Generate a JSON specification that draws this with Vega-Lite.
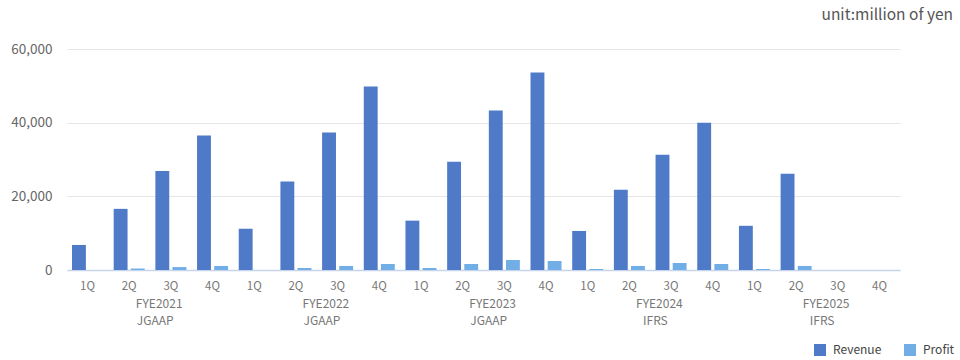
{
  "$schema": "https://vega.github.io/schema/vega-lite/v6.json",
  "autosize": "none",
  "width": 833,
  "height": 221,
  "padding": {"left": 67, "top": 49, "right": 60, "bottom": 90},
  "background": "white",
  "config": {
    "font": "Noto Sans CJK JP",
    "view": {"stroke": null},
    "axis": {"labelFont": "Noto Sans CJK JP"},
    "legend": {"labelFont": "Noto Sans CJK JP"}
  },
  "title": {
    "text": "unit:million of yen",
    "anchor": "end",
    "frame": "group",
    "dx": 53,
    "offset": 19,
    "fontSize": 15.5,
    "fontWeight": "normal",
    "color": "#555555",
    "font": "Noto Sans CJK JP"
  },
  "layer": [
    {
      "data": {
        "values": [
          {"period": "2021-1Q", "series": "Revenue", "value": 6800},
          {"period": "2021-1Q", "series": "Profit", "value": 0},
          {"period": "2021-2Q", "series": "Revenue", "value": 16600},
          {"period": "2021-2Q", "series": "Profit", "value": 400},
          {"period": "2021-3Q", "series": "Revenue", "value": 26900},
          {"period": "2021-3Q", "series": "Profit", "value": 800},
          {"period": "2021-4Q", "series": "Revenue", "value": 36500},
          {"period": "2021-4Q", "series": "Profit", "value": 1100},
          {"period": "2022-1Q", "series": "Revenue", "value": 11200},
          {"period": "2022-1Q", "series": "Profit", "value": 0},
          {"period": "2022-2Q", "series": "Revenue", "value": 24000},
          {"period": "2022-2Q", "series": "Profit", "value": 550},
          {"period": "2022-3Q", "series": "Revenue", "value": 37300},
          {"period": "2022-3Q", "series": "Profit", "value": 1100},
          {"period": "2022-4Q", "series": "Revenue", "value": 49800},
          {"period": "2022-4Q", "series": "Profit", "value": 1630},
          {"period": "2023-1Q", "series": "Revenue", "value": 13400},
          {"period": "2023-1Q", "series": "Profit", "value": 550},
          {"period": "2023-2Q", "series": "Revenue", "value": 29400},
          {"period": "2023-2Q", "series": "Profit", "value": 1630},
          {"period": "2023-3Q", "series": "Revenue", "value": 43300},
          {"period": "2023-3Q", "series": "Profit", "value": 2720},
          {"period": "2023-4Q", "series": "Revenue", "value": 53600},
          {"period": "2023-4Q", "series": "Profit", "value": 2450},
          {"period": "2024-1Q", "series": "Revenue", "value": 10600},
          {"period": "2024-1Q", "series": "Profit", "value": 270},
          {"period": "2024-2Q", "series": "Revenue", "value": 21800},
          {"period": "2024-2Q", "series": "Profit", "value": 1100},
          {"period": "2024-3Q", "series": "Revenue", "value": 31300},
          {"period": "2024-3Q", "series": "Profit", "value": 1900},
          {"period": "2024-4Q", "series": "Revenue", "value": 40000},
          {"period": "2024-4Q", "series": "Profit", "value": 1630},
          {"period": "2025-1Q", "series": "Revenue", "value": 12000},
          {"period": "2025-1Q", "series": "Profit", "value": 270},
          {"period": "2025-2Q", "series": "Revenue", "value": 26100},
          {"period": "2025-2Q", "series": "Profit", "value": 1100},
          {"period": "2025-3Q", "series": "Revenue", "value": null},
          {"period": "2025-3Q", "series": "Profit", "value": null},
          {"period": "2025-4Q", "series": "Revenue", "value": null},
          {"period": "2025-4Q", "series": "Profit", "value": null}
        ]
      },
      "mark": {"type": "bar"},
      "encoding": {
        "x": {
          "field": "period",
          "type": "nominal",
          "scale": {
            "domain": ["2021-1Q","2021-2Q","2021-3Q","2021-4Q","2022-1Q","2022-2Q","2022-3Q","2022-4Q","2023-1Q","2023-2Q","2023-3Q","2023-4Q","2024-1Q","2024-2Q","2024-3Q","2024-4Q","2025-1Q","2025-2Q","2025-3Q","2025-4Q"],
            "paddingInner": 0.256,
            "paddingOuter": 0.12
          },
          "axis": {
            "title": null,
            "labelExpr": "substring(datum.label, 5)",
            "labelAngle": 0,
            "labelFontSize": 11.5,
            "labelColor": "#777777",
            "labelPadding": 10,
            "ticks": false,
            "domainColor": "#c7d5ec",
            "domainWidth": 1.5,
            "grid": false
          }
        },
        "xOffset": {
          "field": "series",
          "type": "nominal",
          "sort": ["Revenue", "Profit"],
          "scale": {"paddingInner": 0.19}
        },
        "y": {
          "field": "value",
          "type": "quantitative",
          "scale": {"domain": [0, 60000]},
          "axis": {
            "title": null,
            "values": [0, 20000, 40000, 60000],
            "format": ",d",
            "labelFontSize": 13.5,
            "labelColor": "#666666",
            "labelPadding": 15,
            "ticks": false,
            "domain": false,
            "gridColor": "#e6e6e6",
            "gridWidth": 1
          }
        },
        "color": {
          "field": "series",
          "type": "nominal",
          "sort": ["Revenue", "Profit"],
          "scale": {"domain": ["Revenue", "Profit"], "range": ["#4e7ac8", "#72aee6"]},
          "legend": {
            "title": null,
            "orient": "none",
            "direction": "horizontal",
            "legendX": 747,
            "legendY": 295,
            "symbolType": "square",
            "symbolSize": 144,
            "symbolStrokeWidth": 0,
            "labelFontSize": 12,
            "labelColor": "#444444",
            "labelOffset": 7,
            "columnPadding": 22,
            "padding": 0
          }
        }
      }
    },
    {
      "data": {
        "values": [
          {"period": "2021-2Q", "fy": "FYE2021", "std": "JGAAP"},
          {"period": "2022-2Q", "fy": "FYE2022", "std": "JGAAP"},
          {"period": "2023-2Q", "fy": "FYE2023", "std": "JGAAP"},
          {"period": "2024-2Q", "fy": "FYE2024", "std": "IFRS"},
          {"period": "2025-2Q", "fy": "FYE2025", "std": "IFRS"}
        ]
      },
      "layer": [
        {
          "mark": {"type": "text", "dx": 30, "dy": 34, "fontSize": 12, "color": "#777777", "baseline": "middle", "align": "center"},
          "encoding": {
            "x": {"field": "period", "type": "nominal"},
            "y": {"datum": 0, "type": "quantitative"},
            "text": {"field": "fy"}
          }
        },
        {
          "mark": {"type": "text", "dx": 26, "dy": 51, "fontSize": 12, "color": "#777777", "baseline": "middle", "align": "center"},
          "encoding": {
            "x": {"field": "period", "type": "nominal"},
            "y": {"datum": 0, "type": "quantitative"},
            "text": {"field": "std"}
          }
        }
      ]
    }
  ]
}
